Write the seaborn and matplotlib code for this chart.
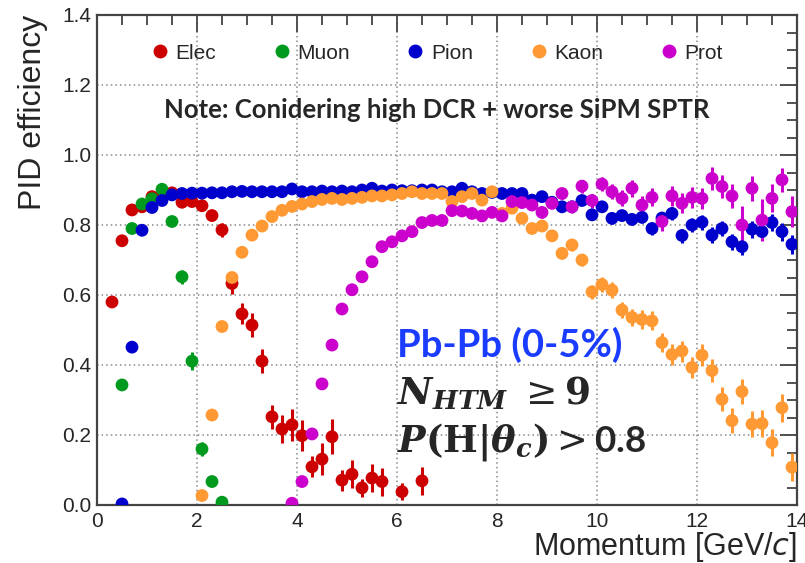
import numpy as np
import pandas as pd
import matplotlib
matplotlib.use("Agg")
import matplotlib.pyplot as plt
import seaborn as sns
from matplotlib.ticker import MultipleLocator
from matplotlib.lines import Line2D

# ---------------- data ----------------
species = ["Elec", "Muon", "Pion", "Kaon", "Prot"]
colors = ["#cc0000", "#009a1f", "#0000cc", "#ff9933", "#cc00cc"]

elec_p = [0.3, 0.5, 0.7, 0.9, 1.1, 1.3, 1.5, 1.7, 1.9, 2.1, 2.3, 2.5, 2.7, 2.9, 3.1,
          3.3, 3.5, 3.7, 3.9, 4.1, 4.3, 4.5, 4.7, 4.9, 5.1, 5.3, 5.5, 5.7, 6.1, 6.5]
elec_eff = [0.58, 0.755, 0.843, 0.852, 0.881, 0.885, 0.892, 0.865, 0.867, 0.855, 0.827, 0.786,
            0.633, 0.546, 0.514, 0.411, 0.252, 0.217, 0.229, 0.198, 0.109, 0.131, 0.195,
            0.071, 0.088, 0.049, 0.077, 0.067, 0.038, 0.069]
elec_err = [0.008, 0.008, 0.008, 0.008, 0.008, 0.008, 0.01, 0.01, 0.01, 0.012, 0.015, 0.02,
            0.03, 0.03, 0.035, 0.035, 0.035, 0.04, 0.045, 0.045, 0.03, 0.045, 0.05,
            0.03, 0.04, 0.025, 0.04, 0.04, 0.025, 0.04]

muon_p = [0.5, 0.7, 0.9, 1.1, 1.3, 1.5, 1.7, 1.9, 2.1, 2.3, 2.5]
muon_eff = [0.343, 0.79, 0.86, 0.875, 0.902, 0.81, 0.652, 0.411, 0.16, 0.067, 0.008]
muon_err = [0.01, 0.01, 0.01, 0.01, 0.01, 0.012, 0.02, 0.025, 0.02, 0.01, 0.005]

pion_p = [round(0.5 + 0.2 * i, 1) for i in range(68)]
pion_eff = [0.003, 0.451, 0.785, 0.85, 0.87, 0.886, 0.89, 0.891, 0.891, 0.892,
            0.892, 0.895, 0.896, 0.895, 0.895, 0.895, 0.895, 0.903, 0.895, 0.895,
            0.897, 0.895, 0.897, 0.895, 0.9, 0.905, 0.897, 0.9, 0.898, 0.898,
            0.9, 0.9, 0.895, 0.895, 0.905, 0.895, 0.89, 0.893, 0.89, 0.89,
            0.89, 0.871, 0.881, 0.865, 0.852, 0.852, 0.87, 0.829, 0.852, 0.819,
            0.827, 0.816, 0.822, 0.79, 0.82, 0.833, 0.77, 0.8, 0.808, 0.771,
            0.79, 0.752, 0.738, 0.788, 0.781, 0.807, 0.781, 0.745]
pion_err = [0.003, 0.008, 0.006, 0.005, 0.005, 0.005, 0.005, 0.005, 0.005, 0.005,
            0.005, 0.005, 0.005, 0.005, 0.005, 0.005, 0.005, 0.005, 0.005, 0.005,
            0.005, 0.005, 0.005, 0.005, 0.005, 0.005, 0.005, 0.005, 0.005, 0.005,
            0.005, 0.005, 0.006, 0.006, 0.006, 0.007, 0.007, 0.008, 0.008, 0.009,
            0.01, 0.01, 0.011, 0.012, 0.012, 0.013, 0.014, 0.014, 0.015, 0.015,
            0.016, 0.016, 0.017, 0.018, 0.018, 0.019, 0.02, 0.02, 0.021, 0.022,
            0.022, 0.023, 0.024, 0.024, 0.025, 0.025, 0.026, 0.027]

kaon_p = [round(2.1 + 0.2 * i, 1) for i in range(60)]
kaon_eff = [0.027, 0.257, 0.51, 0.65, 0.722, 0.771, 0.797, 0.824, 0.842, 0.853,
            0.86, 0.867, 0.873, 0.876, 0.873, 0.876, 0.879, 0.883, 0.883, 0.886,
            0.89, 0.895, 0.89, 0.89, 0.89, 0.867, 0.881, 0.89, 0.871, 0.895,
            0.833, 0.848, 0.819, 0.79, 0.797, 0.769, 0.719, 0.743, 0.7, 0.609,
            0.63, 0.614, 0.557, 0.536, 0.53, 0.526, 0.464, 0.43, 0.44, 0.393,
            0.428, 0.384, 0.302, 0.241, 0.324, 0.231, 0.233, 0.178, 0.278, 0.108]
kaon_err = [0.004, 0.006, 0.006, 0.006, 0.005, 0.005, 0.005, 0.005, 0.005, 0.005,
            0.005, 0.005, 0.005, 0.005, 0.005, 0.005, 0.005, 0.005, 0.005, 0.005,
            0.005, 0.005, 0.006, 0.006, 0.006, 0.007, 0.008, 0.008, 0.009, 0.01,
            0.01, 0.011, 0.012, 0.013, 0.014, 0.015, 0.016, 0.017, 0.018, 0.02,
            0.022, 0.023, 0.024, 0.025, 0.026, 0.027, 0.028, 0.029, 0.03, 0.031,
            0.032, 0.033, 0.034, 0.035, 0.036, 0.037, 0.038, 0.039, 0.04, 0.04]

prot_p = [round(3.9 + 0.2 * i, 1) for i in range(51)]
prot_eff = [0.005, 0.067, 0.203, 0.346, 0.457, 0.56, 0.615, 0.652, 0.695, 0.738,
            0.752, 0.769, 0.781, 0.807, 0.813, 0.813, 0.841, 0.84, 0.833, 0.826,
            0.836, 0.826, 0.867, 0.864, 0.857, 0.836, 0.862, 0.89, 0.852, 0.911,
            0.87, 0.917, 0.895, 0.876, 0.905, 0.857, 0.879, 0.81, 0.883, 0.862,
            0.879, 0.876, 0.933, 0.91, 0.883, 0.8, 0.905, 0.814, 0.876, 0.929,
            0.838]
prot_err = [0.003, 0.005, 0.007, 0.008, 0.008, 0.008, 0.008, 0.008, 0.007, 0.007,
            0.007, 0.007, 0.007, 0.007, 0.007, 0.007, 0.007, 0.008, 0.008, 0.009,
            0.01, 0.011, 0.012, 0.013, 0.014, 0.015, 0.016, 0.017, 0.018, 0.019,
            0.02, 0.021, 0.022, 0.023, 0.024, 0.025, 0.026, 0.027, 0.028, 0.029,
            0.03, 0.031, 0.032, 0.033, 0.034, 0.055, 0.036, 0.06, 0.04, 0.035,
            0.045]

series = {
    "Elec": (elec_p, elec_eff, elec_err),
    "Muon": (muon_p, muon_eff, muon_err),
    "Pion": (pion_p, pion_eff, pion_err),
    "Kaon": (kaon_p, kaon_eff, kaon_err),
    "Prot": (prot_p, prot_eff, prot_err),
}

rows = []
for name, (p, e, s) in series.items():
    for pi, ei, si in zip(p, e, s):
        rows.append({"p": pi, "eff": ei, "err": si, "species": name})
df = pd.DataFrame(rows)

# ---------------- style ----------------
sns.set_style("white")
plt.rcParams["font.family"] = ["Liberation Sans", "DejaVu Sans"]

fig = plt.figure(figsize=(8.05, 5.63), dpi=100)
ax = fig.add_axes([97 / 805, 1 - 505 / 563, 700 / 805, 490 / 563])

palette = dict(zip(species, colors))

# error bars
for name in species:
    sub = df[df.species == name]
    ax.errorbar(sub.p, sub.eff, yerr=sub.err, fmt="none", ecolor=palette[name],
                elinewidth=2.2, capsize=0, zorder=2)

sns.scatterplot(data=df, x="p", y="eff", hue="species", hue_order=species,
                palette=palette, s=85, edgecolor="none", linewidth=0,
                legend=False, ax=ax, zorder=3)

ax.set_xlim(0, 14)
ax.set_ylim(0, 1.4)
ax.xaxis.set_major_locator(MultipleLocator(2))
ax.xaxis.set_minor_locator(MultipleLocator(0.5))
ax.yaxis.set_major_locator(MultipleLocator(0.2))
ax.yaxis.set_minor_locator(MultipleLocator(0.05))
ax.set_xticks(np.arange(0, 15, 2))
ax.set_xticklabels([f"{int(v)}" for v in np.arange(0, 15, 2)])
ax.set_yticks(np.arange(0, 1.41, 0.2))
ax.set_yticklabels([f"{v:.1f}" for v in np.arange(0, 1.41, 0.2)])

ax.tick_params(axis="both", which="both", direction="in", top=True, right=True,
               color="#444444", labelsize=15)
ax.tick_params(axis="both", which="major", length=12, width=1.3)
ax.tick_params(axis="both", which="minor", length=7, width=1.3)
ax.tick_params(axis="x", which="major", pad=5)
ax.tick_params(axis="y", which="major", pad=4)

for sp in ax.spines.values():
    sp.set_color("#444444")
    sp.set_linewidth(1.6)

ax.grid(True, which="major", linestyle=(0, (1, 2)), color="#888888", linewidth=1.1)
ax.set_axisbelow(True)

ax.set_xlabel("Momentum [GeV/$\\it{c}$]", fontsize=22, ha="right", x=1.0, labelpad=-1)
ax.set_ylabel("PID efficiency", fontsize=23, ha="right", y=1.0, labelpad=10)

# legend
handles = [Line2D([0], [0], marker="o", linestyle="none", markersize=10,
                  markerfacecolor=c, markeredgecolor="none") for c in colors]
ax.legend(handles, species, ncol=5, frameon=False, loc="upper center",
          bbox_to_anchor=(0.483, 0.98), fontsize=15, handletextpad=0.15,
          columnspacing=2.55, handlelength=1.2)

# annotations
ax.text(0.486, 0.806, "Note: Conidering high DCR + worse SiPM SPTR", transform=ax.transAxes,
        ha="center", va="center", fontsize=18.5, fontweight="bold", family=["Lato", "DejaVu Sans"])
ax.text(6.0, 0.457, "Pb-Pb (0-5%)", ha="left", va="center", fontsize=27.5,
        fontweight="bold", color="#1a3cff", family=["Lato", "DejaVu Sans"])
ax.text(6.0, 0.318, r"$\mathbfit{N}_{\mathbfit{HTM}}\ \geq \mathbf{9}$", ha="left", va="center",
        fontsize=27, math_fontfamily="dejavuserif")
ax.text(6.0, 0.18, r"$\mathbfit{P}\mathbf{(H|}\mathbfit{\theta}_{\mathbfit{c}}\mathbf{)} > $0.8",
        ha="left", va="center", fontsize=26.5, fontweight="bold",
        family=["Lato", "DejaVu Sans"], math_fontfamily="dejavuserif")

fig.savefig("out.png", dpi=100)
